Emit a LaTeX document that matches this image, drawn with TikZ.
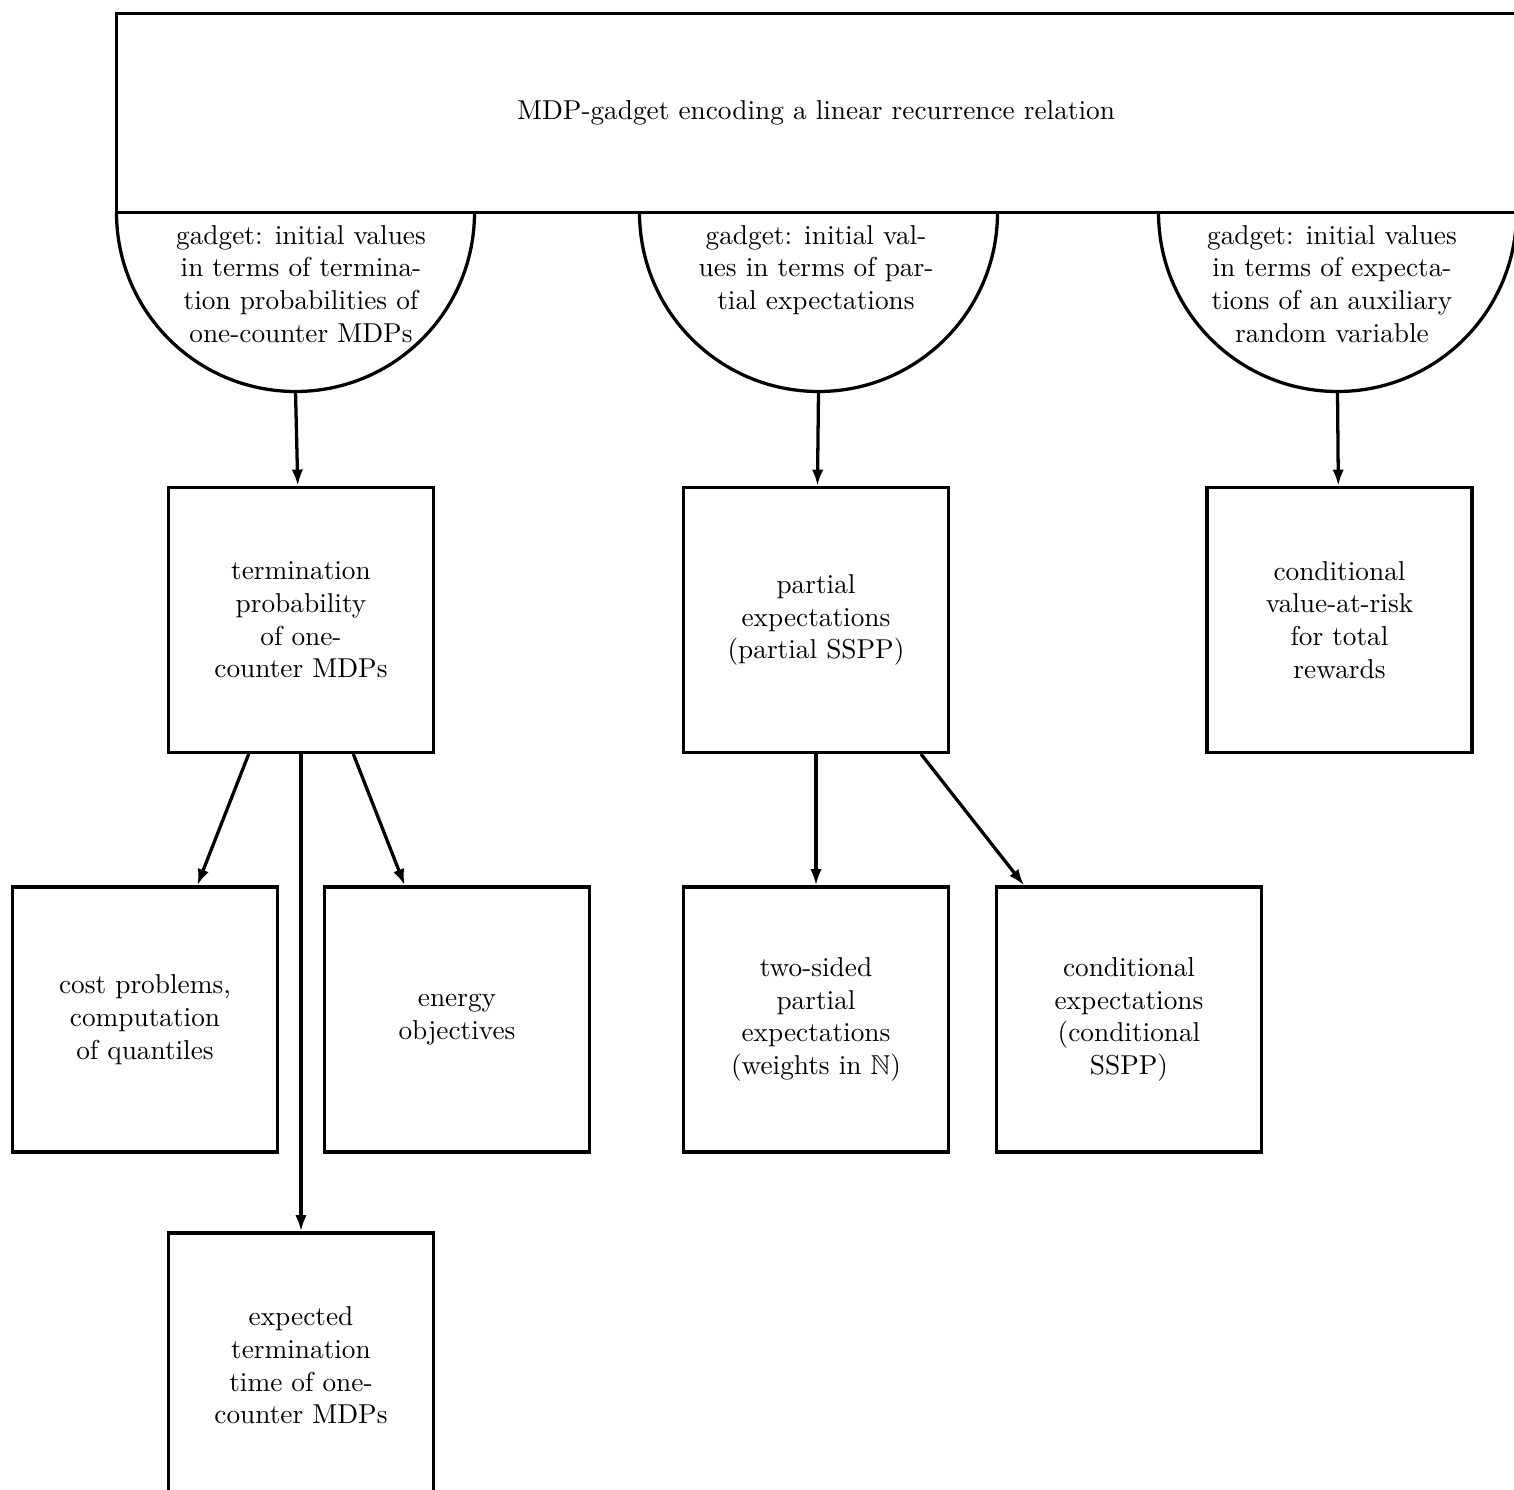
\documentclass[tikz,border=0pt]{standalone}
\usepackage{amssymb}
\usetikzlibrary{arrows.meta}
\begin{document}
\begin{tikzpicture}[x=0.3663pt,y=0.3663pt,line width=1.2pt,
  box/.style={draw, line width=1.2pt, minimum width=97pt, minimum height=97pt, inner sep=0pt, align=center},
  topbox/.style={draw, line width=1.2pt, minimum width=512.5pt, minimum height=72.8pt, inner sep=0pt, align=center},
  semitext/.style={align=center, inner sep=0pt, anchor=north},
  arr/.style={-{Latex[length=6pt,width=4.2pt]}, line width=1.2pt}]
\useasboundingbox (0,0) rectangle (1514,-1490);
\clip (0,0) rectangle (1514,-1490);

% top rectangle
\node[topbox] (top) at (816,-113.1) {MDP-gadget encoding a linear recurrence relation};

% semicircles
\draw (116.5,-212.5) arc[start angle=180, end angle=360, radius=65.57pt];
\draw (639.5,-212.5) arc[start angle=180, end angle=360, radius=65.57pt];
\draw (1158.5,-212.5) arc[start angle=180, end angle=360, radius=65.57pt];
\coordinate (s1) at (295.5,-391.5);
\coordinate (s2) at (818.5,-391.5);
\coordinate (s3) at (1337.5,-391.5);

\node[semitext] (g1) at (301,-223.5) {gadget: initial values\\in terms of termina-\\tion probabilities of\\one-counter MDPs};
\node[semitext] (g2) at (816,-223.5) {gadget: initial val-\\ues in terms of par-\\tial expectations};
\node[semitext] (g3) at (1332,-223.5) {gadget: initial values\\in terms of expecta-\\tions of an auxiliary\\random variable};

% boxes
\node[box] (tp) at (301,-620) {termination\\probability\\of one-\\counter MDPs};
\node[box] (pe) at (816,-620) {partial\\expectations\\(partial SSPP)};
\node[box] (cv) at (1339.5,-620) {conditional\\value-at-risk\\for total\\rewards};

\node[box] (cost) at (145,-1019.5) {cost problems,\\computation\\of quantiles};
\node[box] (en) at (457,-1019.5) {energy\\objectives};
\node[box] (ts) at (816,-1019.5) {two-sided\\partial\\expectations\\(weights in $\mathbb{N}$)};
\node[box] (ce) at (1129,-1019.5) {conditional\\expectations\\(conditional\\SSPP)};

\node[box] (et) at (301,-1365.5) {expected\\termination\\time of one-\\counter MDPs};

% connectors
\draw[arr] (s1) -- (tp);
\draw[arr] (s2) -- (pe);
\draw[arr] (s3) -- (cv);
\draw[arr] (tp) -- (cost);
\draw[arr] (tp) -- (en);
\draw[arr] (tp) -- (et);
\draw[arr] (pe) -- (ts);
\draw[arr] (pe) -- (ce);
\end{tikzpicture}
\end{document}
